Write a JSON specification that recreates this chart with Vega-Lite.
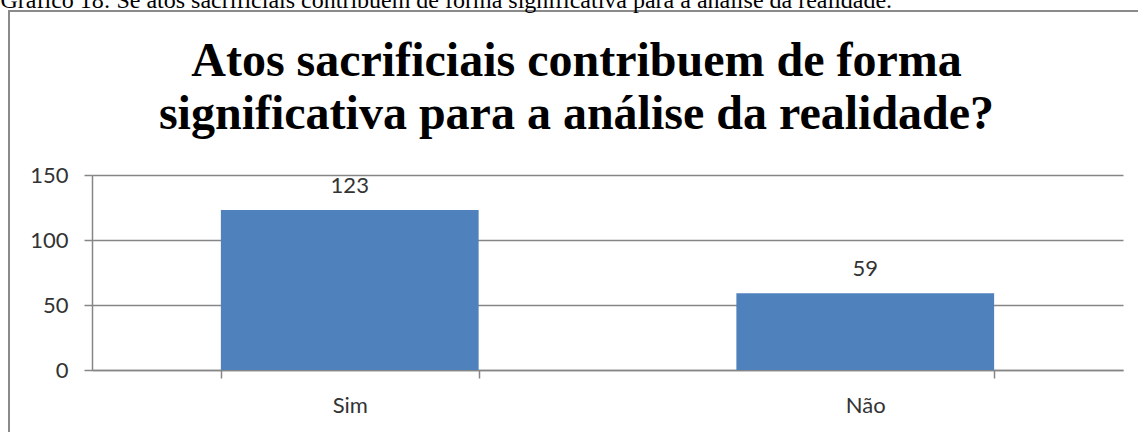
{
  "$schema": "https://vega.github.io/schema/vega-lite/v6.json",
  "width": 1135,
  "height": 425,
  "autosize": {"type": "none"},
  "padding": {"left": 9, "top": 11, "right": 0, "bottom": 0},
  "background": "white",
  "data": {"values": [
    {"resposta": "Sim", "total": 123},
    {"resposta": "Não", "total": 59}
  ]},
  "title": {
    "text": ["Atos sacrificiais contribuem de forma", "significativa para a análise da realidade?"],
    "font": "Liberation Serif",
    "fontSize": 48,
    "fontWeight": "bold",
    "color": "#000000",
    "anchor": "middle",
    "frame": "group",
    "lineHeight": 53,
    "offset": -151
  },
  "config": {
    "view": {"stroke": "#8a8a8a", "strokeWidth": 2, "fill": "white"}
  },
  "encoding": {
    "x": {
      "field": "resposta",
      "type": "nominal",
      "sort": null,
      "scale": {"range": [83, 1114], "paddingInner": 0.5, "paddingOuter": 0.25},
      "axis": {
        "title": null,
        "offset": -66,
        "domainColor": "#868686",
        "domainWidth": 1.5,
        "tickColor": "#868686",
        "tickWidth": 1.5,
        "tickSize": 8,
        "tickBand": "extent",
        "labelAngle": 0,
        "labelFont": "Lato",
        "labelFontSize": 22,
        "labelColor": "#333333",
        "labelPadding": 17,
        "grid": false
      }
    },
    "y": {
      "field": "total",
      "type": "quantitative",
      "scale": {"domain": [0, 150], "range": [359, 164]},
      "axis": {
        "title": "Gráfico 18: Se atos sacrificiais contribuem de forma significativa para a análise da realidade.",
        "titleAngle": 0,
        "titleAlign": "left",
        "titleBaseline": "alphabetic",
        "titleX": -92,
        "titleY": -4,
        "titleFont": "Liberation Serif",
        "titleFontSize": 24,
        "titleFontWeight": "normal",
        "titleColor": "#000000",
        "values": [0, 50, 100, 150],
        "offset": -83,
        "domainColor": "#868686",
        "domainWidth": 1.5,
        "tickColor": "#868686",
        "tickWidth": 1.5,
        "tickSize": 8,
        "gridColor": "#868686",
        "gridWidth": 1.5,
        "labelFont": "Lato",
        "labelFontSize": 22,
        "labelColor": "#333333",
        "labelPadding": 16
      }
    }
  },
  "layer": [
    {"mark": {"type": "bar", "color": "#4F81BD"}},
    {
      "mark": {"type": "text", "baseline": "alphabetic", "dy": -17, "font": "Lato", "fontSize": 22, "color": "#333333"},
      "encoding": {"text": {"field": "total", "type": "quantitative"}}
    }
  ]
}
